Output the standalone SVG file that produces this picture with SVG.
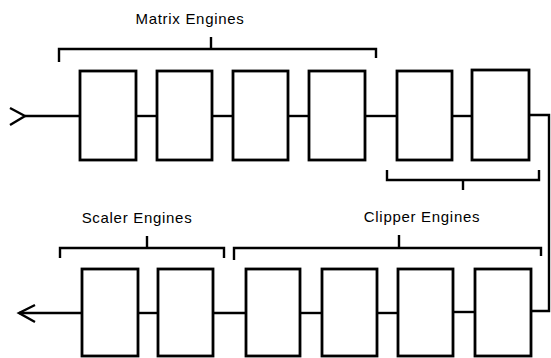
<svg xmlns="http://www.w3.org/2000/svg" width="551" height="358" viewBox="0 0 551 358">
<style>
.box{fill:#fff;stroke:#000;stroke-width:2.8}
.ln{fill:none;stroke:#000;stroke-width:2.4;stroke-linejoin:miter}
.br{fill:none;stroke:#000;stroke-width:2.4}
.lbl{font-family:"Liberation Sans",Arial,sans-serif;font-size:15px;letter-spacing:0.7px;fill:#000;text-anchor:middle}
</style>
<rect width="551" height="358" fill="#fff"/>
<g id="connectors">
<polyline class="ln" points="10,108 25,116 10,125"/>
<line class="ln" x1="25" y1="116" x2="80" y2="116"/>
<line class="ln" x1="136" y1="116" x2="157" y2="116"/>
<line class="ln" x1="212" y1="116" x2="233" y2="116"/>
<line class="ln" x1="288" y1="116" x2="309" y2="116"/>
<line class="ln" x1="365" y1="116" x2="397" y2="116"/>
<line class="ln" x1="452" y1="116" x2="472" y2="116"/>
<polyline class="ln" points="529,115 549,115 549,311 531,311"/>
<line class="ln" x1="475" y1="312" x2="453" y2="312"/>
<line class="ln" x1="398" y1="313" x2="377" y2="313"/>
<line class="ln" x1="322" y1="313" x2="300" y2="313"/>
<line class="ln" x1="246" y1="313" x2="213" y2="313"/>
<line class="ln" x1="158" y1="313" x2="138" y2="313"/>
<line class="ln" x1="82" y1="313" x2="19" y2="313"/>
<polyline class="ln" points="35,305 19,313 35,322"/>
</g>
<g id="matrix-label">
<text class="lbl" x="190" y="24">Matrix Engines</text>
<polyline class="br" points="59,62 59,49 376,49 376,58"/>
<line class="br" x1="211" y1="37" x2="211" y2="49"/>
</g>
<g id="matrix-tail-bracket">
<polyline class="br" points="387,170 387,180 539,180 539,170"/>
<line class="br" x1="463" y1="180" x2="463" y2="190"/>
</g>
<g id="scaler-label">
<text class="lbl" x="137" y="223">Scaler Engines</text>
<polyline class="br" points="60,258 60,248 224,248 224,258"/>
<line class="br" x1="147" y1="236" x2="147" y2="248"/>
</g>
<g id="clipper-label">
<text class="lbl" x="422" y="222">Clipper Engines</text>
<polyline class="br" points="234,260 234,248 541,248 541,256"/>
<line class="br" x1="399" y1="235" x2="399" y2="248"/>
</g>
<g id="top1"><rect class="box" x="80" y="71" width="56" height="89"/></g>
<g id="top2"><rect class="box" x="157" y="71" width="55" height="89"/></g>
<g id="top3"><rect class="box" x="233" y="71" width="55" height="89"/></g>
<g id="top4"><rect class="box" x="309" y="71" width="56" height="89"/></g>
<g id="top5"><rect class="box" x="397" y="71" width="55" height="89"/></g>
<g id="top6"><rect class="box" x="472" y="70" width="57" height="90"/></g>
<g id="bot1"><rect class="box" x="82" y="269" width="56" height="87"/></g>
<g id="bot2"><rect class="box" x="158" y="269" width="55" height="87"/></g>
<g id="bot3"><rect class="box" x="246" y="269" width="54" height="87"/></g>
<g id="bot4"><rect class="box" x="322" y="269" width="55" height="87"/></g>
<g id="bot5"><rect class="box" x="398" y="269" width="55" height="87"/></g>
<g id="bot6"><rect class="box" x="475" y="269" width="56" height="87"/></g>
</svg>
